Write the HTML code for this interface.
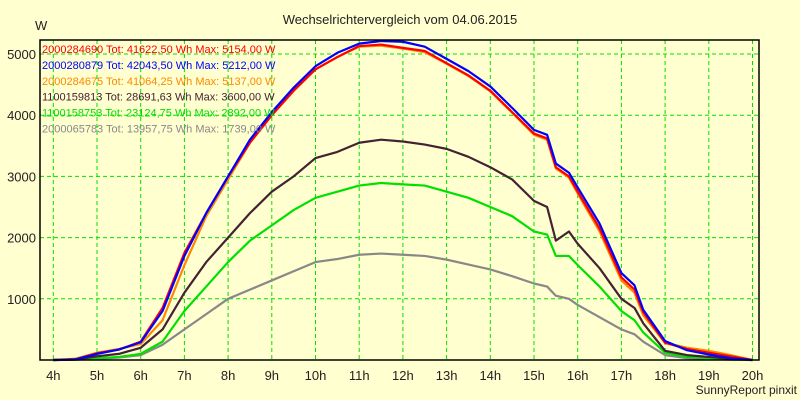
<!DOCTYPE html>
<html><head><meta charset="utf-8"><style>
body{margin:0;background:#ffffd0;}
svg{display:block;font-family:"Liberation Sans",sans-serif;}
</style></head><body>
<svg id="chart" width="800" height="400">
<rect width="800" height="400" fill="#ffffd0"/>
<text x="400" y="24" text-anchor="middle" font-size="13" fill="#222">Wechselrichtervergleich vom 04.06.2015</text>
<text x="35" y="30" font-size="13" fill="#222">W</text>
<text x="797" y="394" text-anchor="end" font-size="12" fill="#222">SunnyReport pinxit</text>
<g id="grid"></g><g id="series"></g><g id="axes"></g><g id="legend"></g>
</svg>
<script>
const hours=[4,4.5,5,5.5,6,6.5,7,7.5,8,8.5,9,9.5,10,10.5,11,11.5,12,12.5,13,13.5,14,14.5,15,15.3,15.5,15.8,16,16.5,17,17.3,17.5,18,18.5,19,19.5,20];
const seriesRed=[0,10,110,170,300,850,1750,2400,3000,3550,4000,4400,4750,4950,5130,5154,5100,5050,4850,4650,4400,4050,3700,3620,3150,3000,2750,2150,1350,1150,780,280,180,120,60,0];
const seriesBlue=[0,10,100,170,290,800,1700,2400,3000,3600,4050,4450,4800,5020,5170,5212,5200,5120,4920,4720,4470,4120,3760,3680,3210,3060,2820,2230,1420,1220,820,310,160,90,30,0];
const seriesOrange=[0,20,120,180,260,650,1550,2350,2950,3550,4000,4400,4750,4950,5120,5137,5090,5030,4840,4640,4390,4040,3680,3600,3130,2980,2720,2100,1300,1100,730,280,200,150,80,0];
const seriesDark=[0,5,60,100,200,500,1100,1600,2000,2400,2750,3000,3300,3400,3550,3600,3570,3520,3450,3320,3150,2950,2600,2500,1950,2100,1900,1500,1000,850,600,150,80,50,20,0];
const seriesGreen=[0,5,30,50,100,300,800,1200,1600,1950,2200,2450,2650,2750,2850,2892,2870,2850,2750,2650,2500,2350,2100,2050,1700,1700,1550,1200,800,650,450,120,50,30,10,0];
const seriesGray=[0,3,20,40,80,250,500,750,1000,1150,1300,1450,1600,1650,1720,1739,1720,1700,1640,1560,1480,1370,1250,1200,1050,1000,900,700,500,420,300,80,30,20,5,0];
const yTicks=[1000,2000,3000,4000,5000];
const xTicks=[4,5,6,7,8,9,10,11,12,13,14,15,16,17,18,19,20];
const legendLabels=["2000284690 Tot: 41622,50 Wh Max: 5154,00 W","2000280879 Tot: 42043,50 Wh Max: 5212,00 W","2000284675 Tot: 41064,25 Wh Max: 5137,00 W","1100159813 Tot: 28691,63 Wh Max: 3600,00 W","1100158753 Tot: 23124,75 Wh Max: 2892,00 W","2000065783 Tot: 13957,75 Wh Max: 1739,00 W"];
const NS="http://www.w3.org/2000/svg";
const L=40,R=759,T=40,B=360;
const xS=h=>53.3+(h-4)*43.7;
const yS=v=>B-v*0.0612;
function mk(tag,attrs,parent){const e=document.createElementNS(NS,tag);for(const k in attrs)e.setAttribute(k,attrs[k]);document.getElementById(parent).appendChild(e);return e;}
xTicks.forEach(h=>{
 const g=mk('line',{x1:xS(h),x2:xS(h),y1:T,y2:B,stroke:'#00e000','stroke-dasharray':'4,3'},'grid');
 
 
 const t=mk('text',{x:xS(h),y:B+20,'text-anchor':'middle','font-size':13,fill:'#222'},'axes');
 t.textContent=h+'h';
 
 
});
yTicks.forEach(v=>{
 const g=mk('line',{x1:L,x2:R,y1:yS(v),y2:yS(v),stroke:'#00e000','stroke-dasharray':'4,3'},'grid');
 
 
 const t=mk('text',{x:L-4,y:yS(v)+5,'text-anchor':'end','font-size':13,fill:'#222'},'axes');
 t.textContent=v;
 
 
});
const ax=mk('path',{d:`M${L},${T}H${R}V${B}H${L}Z`,fill:'none',stroke:'#000','stroke-width':1.5},'axes');


const all=[[seriesGray,'#888888','series-2000065783'],[seriesGreen,'#00e000','series-1100158753'],[seriesDark,'#442233','series-1100159813'],[seriesOrange,'#ff8800','series-2000284675'],[seriesRed,'#ff0000','series-2000284690'],[seriesBlue,'#0000ff','series-2000280879']];
all.forEach(([d,c,n])=>{
 const p=mk('polyline',{points:d.map((v,i)=>xS(hours[i])+','+yS(v)).join(' '),fill:'none',stroke:c,'stroke-width':2.2,'stroke-linejoin':'round'},'series');
 
 
});
const lc=['#ff0000','#0000ff','#ff8800','#442233','#00e000','#888888'];
legendLabels.forEach((s,i)=>{
 const t=mk('text',{x:42,y:53+i*15.9,'font-size':11,fill:lc[i]},'legend');
 t.textContent=s;
 
 
});
</script>
</body></html>
